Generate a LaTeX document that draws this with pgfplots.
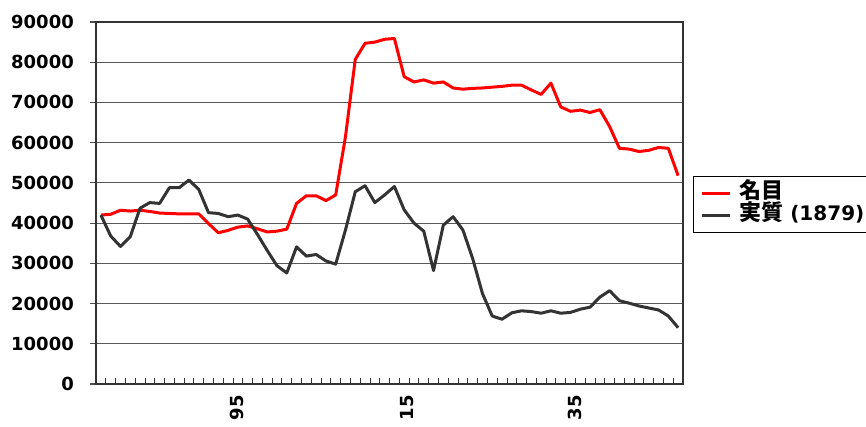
\documentclass[border=0pt]{standalone}
\usepackage{fontspec}
\setmainfont{DejaVu Sans}
\newfontfamily\cjk{Noto Sans CJK JP}
\usepackage{pgfplots}
\pgfplotsset{compat=1.18}
\usepackage{pgfplotstable}
\pgfplotstableread{
x y
0 42000
1 42200
2 43200
3 43000
4 43200
5 42900
6 42500
7 42400
8 42300
9 42300
10 42300
11 39900
12 37600
13 38200
14 39000
15 39300
16 38600
17 37800
18 38000
19 38500
20 44900
21 46800
22 46800
23 45600
24 47000
25 61500
26 80700
27 84700
28 85000
29 85700
30 85900
31 76400
32 75100
33 75600
34 74800
35 75100
36 73600
37 73300
38 73500
39 73600
40 73800
41 74000
42 74300
43 74300
44 73100
45 72000
46 74800
47 68900
48 67800
49 68100
50 67500
51 68200
52 64000
53 58600
54 58400
55 57800
56 58100
57 58800
58 58600
59 51800
}\nominal
\pgfplotstableread{
x y
0 42000
1 36800
2 34200
3 36600
4 43700
5 45100
6 44900
7 48800
8 48800
9 50700
10 48400
11 42600
12 42400
13 41600
14 42000
15 41000
16 37200
17 33200
18 29400
19 27600
20 34100
21 31800
22 32200
23 30600
24 29800
25 38300
26 47800
27 49300
28 45100
29 47000
30 49100
31 43300
32 40000
33 38000
34 28200
35 39500
36 41600
37 38300
38 31200
39 22500
40 16900
41 16100
42 17700
43 18200
44 18000
45 17600
46 18200
47 17600
48 17800
49 18600
50 19100
51 21600
52 23200
53 20700
54 20100
55 19400
56 18900
57 18400
58 16900
59 14000
}\real
\definecolor{darkline}{RGB}{51,51,51}
\begin{document}
\begin{tikzpicture}
\begin{axis}[
  at={(96pt,42pt)}, anchor=south west,
  width=587pt, height=362pt, scale only axis,
  xmin=-0.5, xmax=59.5, ymin=0, ymax=90000,
  ytick={0,10000,...,90000},
  xtick={13.9,31.25,48.45},
  xticklabels={95,15,35},
  minor xtick={-0.5,0.5,...,59.5},
  tick pos=left,
  tick align=inside,
  major tick length=6pt, minor tick length=6pt,
  major x tick style={draw=none},
  y tick style={xshift=-6pt, black!70, line width=1.2pt},
  minor x tick style={black!80, line width=0.8pt},
  ymajorgrids,
  major grid style={black!65, line width=1.2pt},
  axis line style={black!80, line width=1.2pt},
  /pgf/number format/assume math mode=true,
  /pgf/number format/.cd, fixed, 1000 sep={},
  /pgfplots/.cd,
  scaled y ticks=false,
  tick label style={font=\fontsize{18}{20}\selectfont\bfseries},
  yticklabel style={anchor=east, inner sep=0pt, xshift=-22pt},
  xticklabel style={rotate=90, anchor=east, inner sep=0pt},
  xticklabel shift=11pt,
  legend style={at={(1.017,0.575)}, anchor=north west,
    draw=black, line width=0.8pt,
    inner xsep=7pt, inner ysep=7pt,
    nodes={inner sep=0pt, text height=15pt, text depth=5pt},
    row sep=2pt,
    column sep=8pt,
    font=\fontsize{20}{22}\selectfont\bfseries,
    cells={anchor=west}},
  legend image code/.code={\draw[#1, line width=3pt] (0pt,0pt) -- (28pt,0pt);},
  clip=false,
]
\addplot[red, line width=3pt, line join=round] table[x=x,y=y] {\nominal};
\addlegendentry{{\cjk\bfseries\fontsize{22}{22}\selectfont 名目}}
\addplot[darkline, line width=3pt, line join=round] table[x=x,y=y] {\real};
\addlegendentry{{\cjk\bfseries\fontsize{22}{22}\selectfont 実質} (1879)}
\end{axis}
\pgfresetboundingbox
\useasboundingbox (0,0) rectangle (866pt,426pt);
\end{tikzpicture}
\end{document}
